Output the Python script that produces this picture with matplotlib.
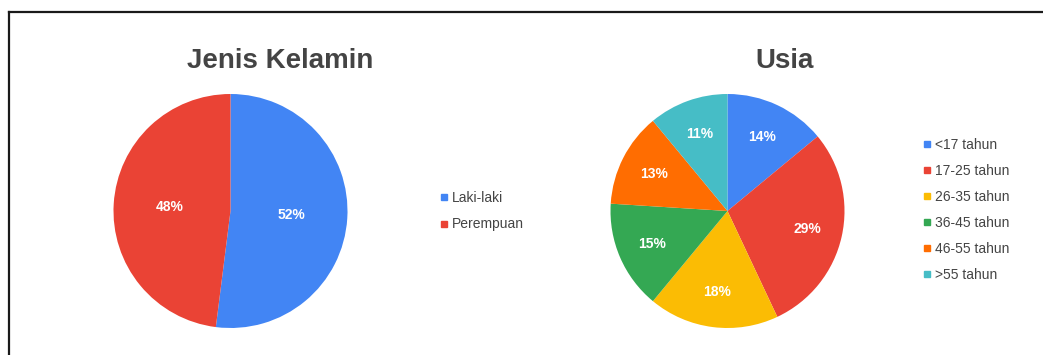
import matplotlib
matplotlib.use("Agg")
import matplotlib.pyplot as plt
from matplotlib.lines import Line2D

plt.rcParams['font.family'] = ['Liberation Sans', 'DejaVu Sans']

# Data
gender_labels = ["Laki-laki", "Perempuan"]
gender_values = [52, 48]
age_labels = ["<17 tahun", "17-25 tahun", "26-35 tahun", "36-45 tahun", "46-55 tahun", ">55 tahun"]
age_values = [14, 29, 18, 15, 13, 11]

gender_colors = ["#4285F4", "#EA4335"]
age_colors = ["#4285F4", "#EA4335", "#FBBC04", "#34A853", "#FF6D01", "#46BDC6"]

W, H = 1043, 355
fig = plt.figure(figsize=(W / 100, H / 100), dpi=100)
fig.patch.set_facecolor("white")

def px_axes(cx, cy, r):
    return fig.add_axes([(cx - r) / W, (H - cy - r) / H, 2 * r / W, 2 * r / H])

def draw_pie(ax, vals, cols, pctdist):
    wedges, texts, autotexts = ax.pie(
        vals, colors=cols, startangle=90, counterclock=False,
        autopct=lambda p: f"{p:.0f}%", pctdistance=pctdist, radius=1,
        wedgeprops=dict(linewidth=0),
        textprops=dict(color="white", fontsize=10, fontweight="bold"))
    ax.set_xlim(-1, 1)
    ax.set_ylim(-1, 1)
    ax.set_aspect("equal")
    ax.axis("off")
    return wedges

ax1 = px_axes(230.5, 211, 117)
w1 = draw_pie(ax1, gender_values, gender_colors, 0.52)
ax2 = px_axes(727.5, 211, 117)
w2 = draw_pie(ax2, age_values, age_colors, 0.70)

# Titles
fig.text(187 / W, 1 - 68 / H, "Jenis Kelamin", fontsize=20, fontweight="bold",
         color="#444444", ha="left", va="baseline")
fig.text(755 / W, 1 - 68 / H, "Usia", fontsize=20, fontweight="bold",
         color="#444444", ha="left", va="baseline")

def make_legend(labels, cols, x, y, spacing):
    handles = [Line2D([], [], marker="s", linestyle="none", markersize=4.5,
                      markerfacecolor=c, markeredgecolor=c) for c in cols]
    leg = fig.legend(handles, labels, loc="upper left",
                     bbox_to_anchor=(x / W, 1 - y / H), frameon=False,
                     handlelength=0.5, handletextpad=0.3, labelspacing=spacing,
                     borderpad=0, borderaxespad=0, fontsize=10)
    for t in leg.get_texts():
        t.set_color("#444444")
    return leg

make_legend(gender_labels, gender_colors, 441, 191, 0.9)
make_legend(age_labels, age_colors, 924, 138, 0.86)

# Frame (left and top lines)
fig.add_artist(Line2D([9 / W, 9 / W], [0, 1 - 12 / H], transform=fig.transFigure,
                      color="#1a1a1a", linewidth=1.6))
fig.add_artist(Line2D([9 / W, 1], [1 - 12 / H, 1 - 12 / H], transform=fig.transFigure,
                      color="#1a1a1a", linewidth=1.6))

fig.savefig("out.png", dpi=100, facecolor="white")
